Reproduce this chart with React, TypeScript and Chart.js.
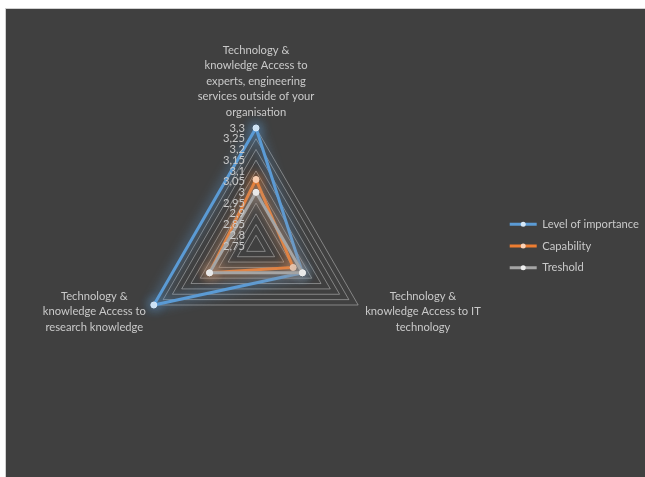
import React, { useEffect, useRef } from 'react';
import { Chart, registerables } from 'chart.js';

Chart.register(...registerables);

const categories: string[][] = [
  ['Technology &', 'knowledge Access to', 'experts, engineering', 'services outside of your', 'organisation'],
  ['Technology &', 'knowledge Access to IT', 'technology'],
  ['Technology &', 'knowledge Access to', 'research knowledge'],
];
const seriesNames = ['Level of importance', 'Capability', 'Treshold'];
const importance = [3.3, 3.0, 3.3];
const capability = [3.06, 2.95, 3.0];
const treshold = [3.0, 3.0, 3.0];
const axisMin = 2.75;
const axisMax = 3.3;
const axisStep = 0.05;

const TEXT = '#c9c9c9';
const FONT = 'Lato, "Open Sans", sans-serif';
const FONT_SIZE = 11.2;
const BLUE = '#5b9bd5';
const ORANGE = '#ed7d31';
const GREY = '#a5a5a5';
const POINT_FILLS = ['#d6e8f8', '#fbd3b8', '#eeeeee'];

const fmt = (v: number) => String(parseFloat(v.toFixed(2))).replace('.', ',');

const glowPlugin = {
  id: 'glow',
  beforeDatasetDraw(chart: any, args: any) {
    const ds = chart.data.datasets[args.index];
    const ctx = chart.ctx;
    ctx.save();
    ctx.shadowColor = ds.borderColor;
    ctx.shadowBlur = 12;
  },
  afterDatasetDraw(chart: any) {
    chart.ctx.restore();
  },
};

const labelsPlugin = {
  id: 'customLabels',
  afterDatasetsDraw(chart: any) {
    const s = chart.scales.r;
    const ctx = chart.ctx;
    ctx.save();
    ctx.font = `${FONT_SIZE}px ${FONT}`;
    ctx.fillStyle = TEXT;
    ctx.textBaseline = 'middle';
    // tick labels
    ctx.textAlign = 'right';
    s.ticks.forEach((t: any) => {
      const d = s.getDistanceFromCenterForValue(t.value);
      ctx.fillText(fmt(t.value), s.xCenter - 11, s.yCenter - d);
    });
    // category labels
    ctx.textAlign = 'center';
    const lh = 15.5;
    categories.forEach((lines, i) => {
      const v = s.getPointPosition(i, s.drawingArea);
      const w = Math.max(...lines.map((l) => ctx.measureText(l).width));
      if (i === 0) {
        const lastY = v.y - 16;
        lines.forEach((l, k) => {
          ctx.fillText(l, v.x, lastY - (lines.length - 1 - k) * lh);
        });
      } else {
        const cx = i === 1 ? v.x + 7 + w / 2 : v.x - 8 - w / 2;
        lines.forEach((l, k) => {
          ctx.fillText(l, cx, v.y - 9 + k * lh);
        });
      }
    });
    ctx.restore();
  },
  afterDraw(chart: any) {
    const lg = chart.legend;
    if (!lg || !lg.legendHitBoxes) return;
    const ctx = chart.ctx;
    const items = lg.legendItems;
    ctx.save();
    lg.legendHitBoxes.forEach((hb: any, k: number) => {
      const di = items[k].datasetIndex;
      ctx.beginPath();
      ctx.arc(hb.left + 27 / 2, hb.top + hb.height / 2, 2.5, 0, Math.PI * 2);
      ctx.fillStyle = POINT_FILLS[di];
      ctx.fill();
    });
    ctx.restore();
  },
};

function makeDataset(label: string, data: number[], color: string, pointFill: string, order: number) {
  return {
    label,
    data,
    borderColor: color,
    backgroundColor: color,
    borderWidth: 3,
    fill: false,
    pointRadius: 3,
    pointBorderWidth: 1,
    pointBackgroundColor: pointFill,
    pointBorderColor: pointFill,
    order,
  };
}

export default function App() {
  const ref = useRef<HTMLCanvasElement>(null);
  useEffect(() => {
    if (!ref.current) return;
    const chart = new Chart(ref.current, {
      type: 'radar',
      data: {
        labels: categories.map((c) => c.join(' ')),
        datasets: [
          makeDataset(seriesNames[0], importance, BLUE, POINT_FILLS[0], 3),
          makeDataset(seriesNames[1], capability, ORANGE, POINT_FILLS[1], 2),
          makeDataset(seriesNames[2], treshold, GREY, POINT_FILLS[2], 1),
        ] as any,
      },
      options: {
        responsive: false,
        animation: false,
        layout: { padding: { top: 119, bottom: 114, left: 8, right: 0 } },
        scales: {
          r: {
            min: axisMin,
            max: axisMax,
            ticks: { stepSize: axisStep, display: false },
            grid: { color: 'rgba(190,190,190,0.55)', lineWidth: 1 },
            angleLines: { display: false },
            pointLabels: { display: false },
          },
        },
        plugins: {
          legend: {
            position: 'right',
            reverse: true,
            labels: {
              color: TEXT,
              font: { family: FONT, size: FONT_SIZE },
              usePointStyle: true,
              pointStyle: 'line',
              pointStyleWidth: 27,
              padding: 10.5,
              generateLabels(chart: any) {
                const base = Chart.defaults.plugins.legend.labels.generateLabels(chart);
                return base.map((it: any) => {
                  const ds = chart.data.datasets[it.datasetIndex];
                  return {
                    ...it,
                    strokeStyle: ds.borderColor,
                    fillStyle: ds.borderColor,
                    lineWidth: 3,
                    pointStyle: 'line',
                  };
                });
              },
            },
          },
          tooltip: { enabled: false },
        },
      },
      plugins: [glowPlugin, labelsPlugin],
    });
    return () => chart.destroy();
  }, []);
  return (
    <div
      style={{
        position: 'absolute',
        left: 5,
        top: 8,
        width: 660,
        height: 480,
        background: '#404040',
        borderTop: '1px solid #d0d0d0',
        borderLeft: '1px solid #d0d0d0',
      }}
    >
      <canvas ref={ref} width={643} height={469} style={{ display: 'block' }} />
    </div>
  );
}
